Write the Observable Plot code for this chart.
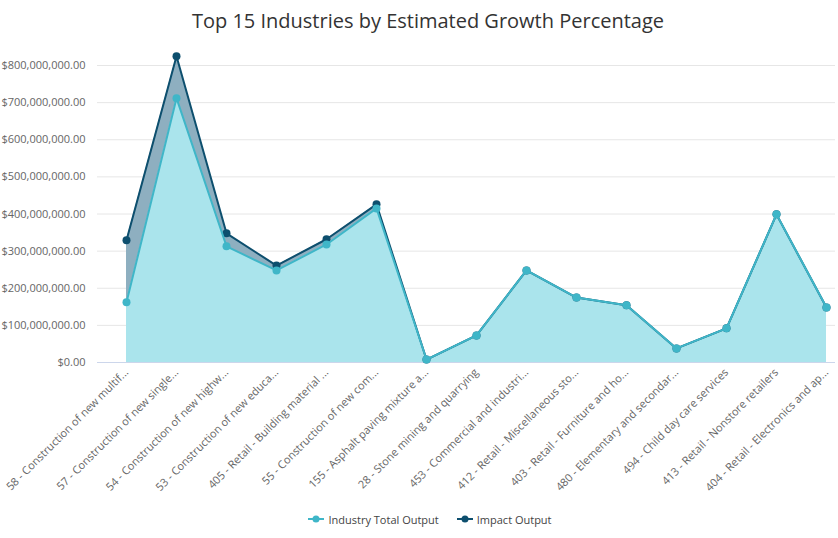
<!DOCTYPE html>
<html>
<head>
<meta charset="utf-8">
<script src="https://cdn.jsdelivr.net/npm/d3@7"></script>
<script src="https://cdn.jsdelivr.net/npm/@observablehq/plot@0.6"></script>
<style>
  html, body { margin: 0; padding: 0; background: #fff; }
  body { width: 838px; height: 538px; overflow: hidden; font-family: "Open Sans", sans-serif; }
  #title { height: 40px; line-height: 42px; text-align: center; font-size: 20px; color: #333; padding-left: 18px; box-sizing: border-box; }
  #legend { height: 38px; display: flex; justify-content: center; align-items: center; gap: 18px; font-size: 11px; color: #444; padding-left: 22px; box-sizing: border-box; }
  #legend .item { display: flex; align-items: center; gap: 4px; }
</style>
</head>
<body>
<div id="title">Top 15 Industries by Estimated Growth Percentage</div>
<div id="chart"></div>
<div id="legend"></div>
<script>
const industries = [
  "58 - Construction of new multif...",
  "57 - Construction of new single...",
  "54 - Construction of new highw...",
  "53 - Construction of new educa...",
  "405 - Retail - Building material ...",
  "55 - Construction of new com...",
  "155 - Asphalt paving mixture a...",
  "28 - Stone mining and quarrying",
  "453 - Commercial and industri...",
  "412 - Retail - Miscellaneous sto...",
  "403 - Retail - Furniture and ho...",
  "480 - Elementary and secondar...",
  "494 - Child day care services",
  "413 - Retail - Nonstore retailers",
  "404 - Retail - Electronics and ap..."
];
const industryTotalOutput = [162e6, 712e6, 313e6, 248e6, 318e6, 415e6, 8e6, 73e6, 248e6, 175e6, 154e6, 38e6, 92e6, 399e6, 148e6];
const impactOutput = [329e6, 825e6, 348e6, 261e6, 332e6, 426e6, 8e6, 73e6, 248e6, 175e6, 154e6, 38e6, 92e6, 399e6, 148e6];
const yTicks = [0, 100e6, 200e6, 300e6, 400e6, 500e6, 600e6, 700e6, 800e6];
const seriesNames = ["Industry Total Output", "Impact Output"];

const industryColor = "#3fb6c8";
const impactColor = "#0d4f6e";

const rows = industries.map((name, i) => ({ name, industry: industryTotalOutput[i], impact: impactOutput[i] }));

const chart = Plot.plot({
  width: 838,
  height: 460,
  marginTop: 25,
  marginBottom: 138,
  marginLeft: 97,
  marginRight: 3,
  insetLeft: 27,
  insetRight: 7,
  style: { fontFamily: "Open Sans, sans-serif", background: "#fff" },
  x: { type: "point", domain: industries, padding: 0, label: null },
  y: { domain: [0, 800e6], label: null },
  marks: [
    Plot.ruleY(yTicks.slice(1), { stroke: "#e6e6e6", strokeWidth: 1 }),
    Plot.areaY(rows, { x: "name", y: "impact", fill: "#8eafc0", fillOpacity: 1, curve: "linear" }),
    Plot.areaY(rows, { x: "name", y: "industry", fill: "#aae4ec", fillOpacity: 1, curve: "linear" }),
    Plot.ruleY([0], { stroke: "#ccd6eb", strokeWidth: 1 }),
    Plot.lineY(rows, { x: "name", y: "impact", stroke: impactColor, strokeWidth: 2, curve: "linear" }),
    Plot.dot(rows, { x: "name", y: "impact", r: 4, fill: impactColor }),
    Plot.lineY(rows, { x: "name", y: "industry", stroke: industryColor, strokeWidth: 2, curve: "linear" }),
    Plot.dot(rows, { x: "name", y: "industry", r: 4, fill: industryColor }),
    Plot.axisY({ ticks: yTicks, tickSize: 0, tickPadding: 12, tickFormat: d3.format("$,.2f"), fontSize: 11, fill: "#666", label: null }),
    Plot.axisX({ tickSize: 0, tickPadding: 8, tickRotate: -45, fontSize: 11, fill: "#666", label: null })
  ]
});
document.getElementById("chart").appendChild(chart);

const legend = document.getElementById("legend");
[industryColor, impactColor].forEach((c, i) => {
  const item = document.createElement("div");
  item.className = "item";
  item.innerHTML = `<svg width="16" height="10"><line x1="0" y1="5" x2="16" y2="5" stroke="${c}" stroke-width="2"/><circle cx="8" cy="5" r="3.5" fill="${c}"/></svg><span>${seriesNames[i]}</span>`;
  legend.appendChild(item);
});
</script>
</body>
</html>
